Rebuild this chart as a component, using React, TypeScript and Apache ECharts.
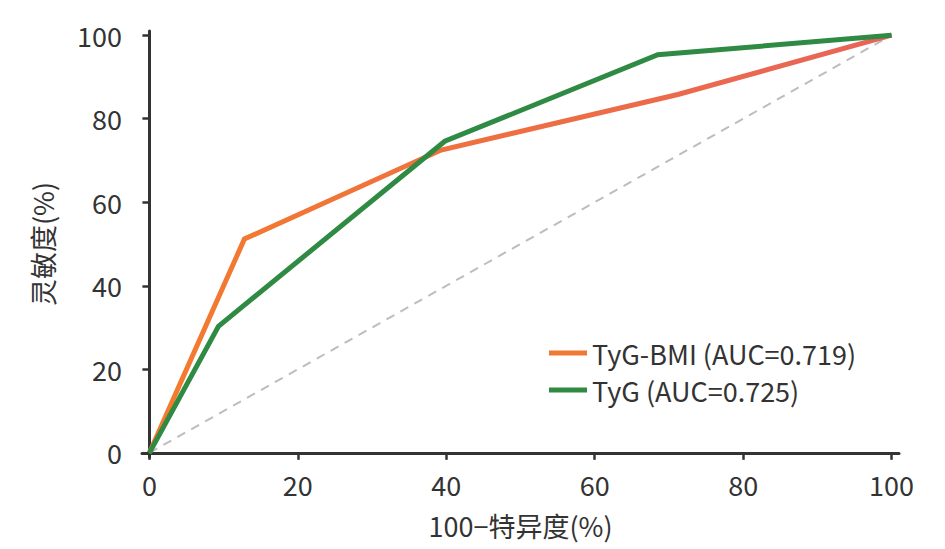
import React, { useEffect, useRef } from "react";
import * as echarts from "echarts";

const ticks = [0, 20, 40, 60, 80, 100];
const bmiX = [0, 12.8, 39.3, 71.2, 100];
const bmiY = [0, 51.2, 72.5, 85.8, 100];
const tygX = [0, 9.3, 39.8, 68.5, 100];
const tygY = [0, 30.3, 74.6, 95.3, 100];
const refX = [0, 100];
const refY = [0, 100];
const names = ["TyG-BMI (AUC=0.719)", "TyG (AUC=0.725)"];
const xName = "100−特异度(%)";
const yName = "灵敏度(%)";

const FONT = "'Noto Sans CJK SC', 'Noto Sans', sans-serif";
const FS = 27;

function pairs(xs: number[], ys: number[]) {
  return xs.map((x, i) => [x, ys[i]]);
}

export default function App() {
  const ref = useRef<HTMLDivElement>(null);
  useEffect(() => {
    if (!ref.current) return;
    const chart = echarts.init(ref.current, null, { renderer: "svg" });
    const axisCommon = {
      type: "value",
      min: -1,
      max: 101,
      axisLine: { show: true, lineStyle: { color: "#333", width: 3 } },
      axisTick: {
        show: true,
        customValues: ticks,
        length: 7,
        lineStyle: { color: "#333", width: 2.5 },
      },
      splitLine: { show: false },
      nameLocation: "middle",
      nameTextStyle: { color: "#333", fontSize: FS, fontFamily: FONT },
    };
    const label = { customValues: ticks, color: "#333", fontSize: FS, fontFamily: FONT };
    chart.setOption({
      animation: false,
      backgroundColor: "#fff",
      textStyle: { fontFamily: FONT },
      grid: { left: 142, right: 46, top: 31, bottom: 92, containLabel: false },
      xAxis: { ...axisCommon, name: xName, nameGap: 55, axisLabel: { ...label, margin: 14 } },
      yAxis: { ...axisCommon, name: yName, nameGap: 86, axisLabel: { ...label, margin: 20 } },
      legend: {
        data: [
          { name: names[0], itemStyle: { color: "#f07a35" } },
          { name: names[1], itemStyle: { color: "#2f8a43" } },
        ],
        orient: "vertical",
        left: 549,
        top: 338.5,
        padding: 0,
        icon: "rect",
        itemWidth: 38,
        itemHeight: 5,
        itemGap: 8,
        textStyle: { color: "#333", fontSize: FS, fontFamily: FONT, lineHeight: 29 },
      },
      series: [
        {
          type: "line",
          data: pairs(refX, refY),
          showSymbol: false,
          symbol: "none",
          silent: true,
          lineStyle: { color: "#bdbdbd", width: 2, type: [9, 7] },
          z: 1,
        },
        {
          name: names[0],
          type: "line",
          data: pairs(bmiX, bmiY),
          symbol: "none",
          lineStyle: {
            width: 5,
            join: "miter",
            color: new echarts.graphic.LinearGradient(0, 0, 1, 0, [
              { offset: 0, color: "#f47b2e" },
              { offset: 0.45, color: "#ee7040" },
              { offset: 1, color: "#e8635a" },
            ]),
          },
          itemStyle: { color: "#f07a35" },
          z: 2,
        },
        {
          name: names[1],
          type: "line",
          data: pairs(tygX, tygY),
          symbol: "none",
          lineStyle: { width: 5, join: "miter", color: "#2f8a43" },
          itemStyle: { color: "#2f8a43" },
          z: 3,
        },
      ],
    });
    return () => chart.dispose();
  }, []);
  return (
    <div
      ref={ref}
      style={{ position: "fixed", left: 0, top: 0, width: 945, height: 549 }}
    />
  );
}
